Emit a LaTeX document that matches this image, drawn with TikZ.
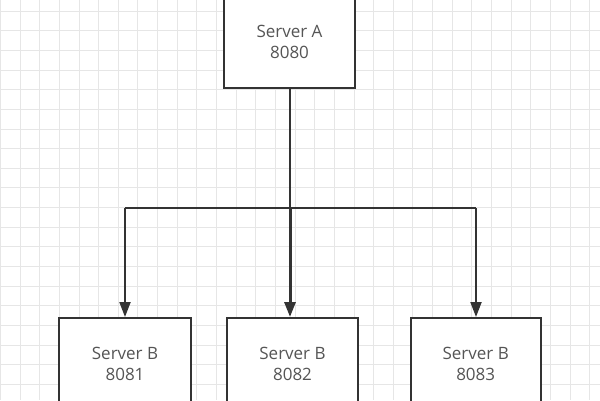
\documentclass[tikz,border=0pt]{standalone}
\usepackage{fontspec}
\setmainfont{Open Sans}
\usetikzlibrary{arrows.meta,calc}
\definecolor{gridc}{HTML}{E6E6E6}
\definecolor{linec}{HTML}{333333}
\definecolor{textc}{HTML}{555555}
\tikzset{
  srv/.style={draw=linec, line width=2pt, fill=white, minimum width=131pt, minimum height=92pt, inner sep=0pt, align=center, text=textc, font=\fontsize{17}{21}\selectfont},
  conn/.style={draw=linec, line width=2pt},
  arr/.style={conn, -{Triangle[length=15pt,width=11pt]}}
}
\begin{document}
\begin{tikzpicture}[x=1pt,y=-1pt]
\useasboundingbox (0,0) rectangle (600,400);
\fill[white] (0,0) rectangle (600,400);
\foreach \i in {0,...,30} {
  \pgfmathsetmacro{\gx}{round(\i*19.64)+0.5}
  \draw[gridc, line width=1pt] (\gx,0) -- (\gx,400);
}
\foreach \j in {0,...,20} {
  \pgfmathsetmacro{\gy}{round(10.7+\j*19.64)+0.5}
  \draw[gridc, line width=1pt] (0,\gy) -- (600,\gy);
}
\node[srv] (A) at (289.5,42) {Server A\\8080};
\node[srv, minimum width=131.4pt] (B1) at (125,364) {Server B\\8081};
\node[srv, minimum width=131.6pt] (B2) at (292.5,364) {Server B\\8082};
\node[srv, minimum width=130pt] (B3) at (475.7,364) {Server B\\8083};
\coordinate (J) at (290,208);
\coordinate (L) at (125,208);
\coordinate (R) at (476,208);
\draw[conn] (A.south -| J) -- (J);
\draw[conn] (L) -- (R);
\draw[arr] (L) -- (B1.north -| L);
\draw[arr] (R) -- (B3.north -| R);
\draw[arr, line width=3pt] (J) -- (B2.north -| J);
\end{tikzpicture}
\end{document}
